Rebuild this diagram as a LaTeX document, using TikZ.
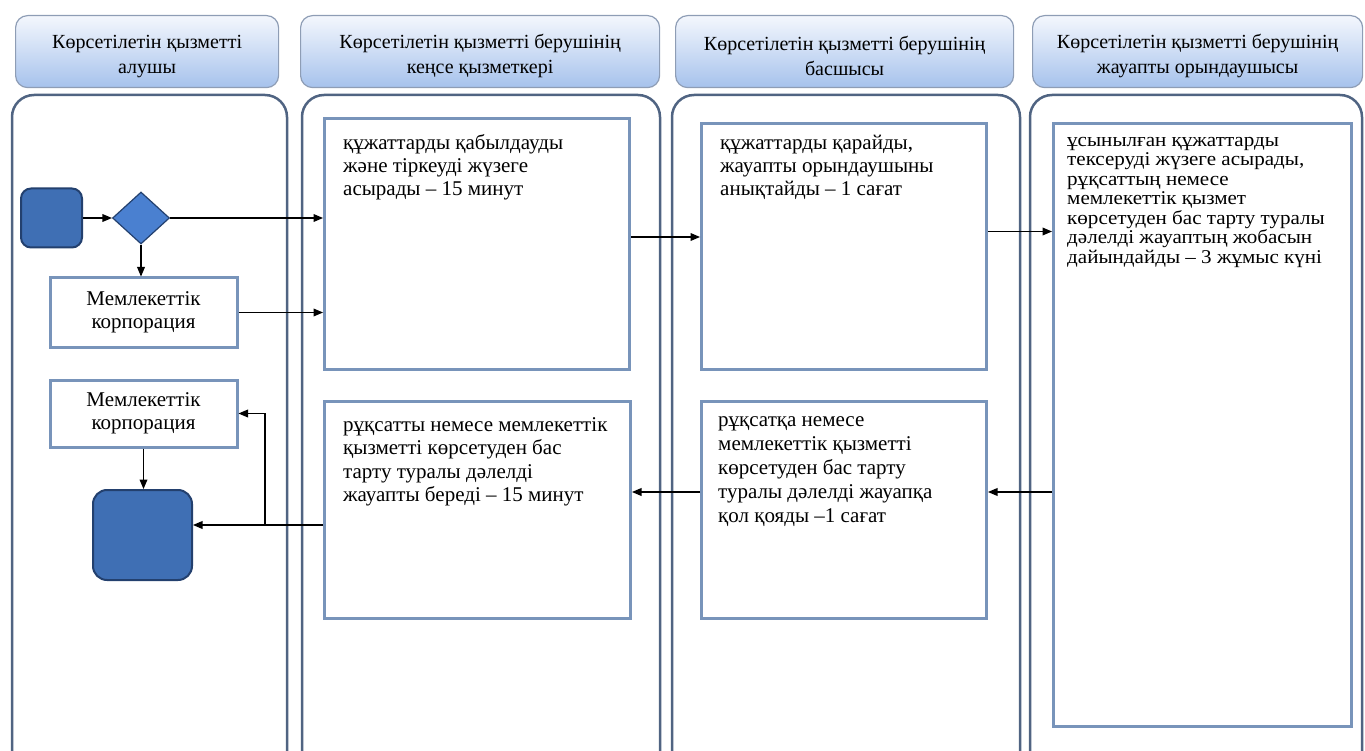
\documentclass[tikz,border=0pt]{standalone}
\usepackage{fontspec}
\setmainfont{Liberation Serif}
\newfontfamily\widefont{Liberation Serif}[FakeStretch=1.08]
\usetikzlibrary{arrows,shapes.geometric}

\definecolor{laneline}{RGB}{80,100,130}
\definecolor{boxline}{RGB}{120,148,186}
\definecolor{hdrline}{RGB}{142,157,181}
\definecolor{hdrtop}{RGB}{244,247,253}
\definecolor{hdrbot}{RGB}{166,194,236}
\definecolor{termfill}{RGB}{63,111,180}
\definecolor{termline}{RGB}{35,64,110}
\definecolor{decfill}{RGB}{74,128,208}

\begin{document}
\begin{tikzpicture}[x=1pt,y=-1pt,>=triangle 45,
	hdr/.style={draw=hdrline,line width=1.2pt,rounded corners=12pt,top color=hdrtop,bottom color=hdrbot,
		align=center,anchor=north west,inner sep=0pt,minimum height=72pt,font=\fontsize{20}{25}\selectfont},
	lane/.style={draw=laneline,line width=2.5pt,rounded corners=22pt},
	stepbox/.style={draw=boxline,line width=3pt,fill=white,anchor=north west,inner sep=0pt},
	steptext/.style={anchor=north west,align=left,inner sep=0pt,font=\fontsize{21}{23}\selectfont},
	corp/.style={draw=boxline,line width=3pt,fill=white,minimum width=187pt,align=center,
		inner sep=0pt,font=\fontsize{21}{23}\selectfont},
	term/.style={draw=termline,line width=2pt,fill=termfill,rounded corners=10pt,inner sep=0pt},
	decision/.style={diamond,draw=termline,line width=1.2pt,fill=decfill,minimum width=57pt,minimum height=52pt,inner sep=0pt},
	flow/.style={->,line width=1.2pt}]
	\useasboundingbox (0,0) rectangle (1365,751);
	\clip (0,0) rectangle (1365,751);

	% swimlanes
	\foreach \xa/\xb in {12/287,302/660,672/1020,1030/1362}
		\draw[lane] (\xa,95) rectangle (\xb,800);

	% lane headers
	\foreach \hname/\hx/\hw/\htext in
		{hdrRecip/15/263/{Көрсетілетін қызметті\\алушы},
		 hdrOffice/300/359/{Көрсетілетін қызметті берушінің\\кеңсе қызметкері},
		 hdrHead/675/338/{Көрсетілетін қызметті берушінің\\басшысы},
		 hdrExec/1032/330/{Көрсетілетін қызметті берушінің\\жауапты орындаушысы}}
			\node[hdr,minimum width=\hw pt] (\hname) at (\hx,15) {\rule{0pt}{24pt}\htext};

	% recipient lane
	\node[term,minimum width=61pt,minimum height=59pt] (start) at (51.5,218) {};
	\node[decision] (dia) at (141,218) {};
	\node[corp,minimum height=69pt] (corp1) at (143.5,312.5) {Мемлекеттік\\корпорация};
	\node[corp,minimum height=67pt] (corp2) at (143.5,413.5) {Мемлекеттік\\корпорация};
	\node[term,minimum width=99pt,minimum height=90pt,rounded corners=14pt] (fin) at (142.5,535) {};

	% step boxes
	\node[stepbox,minimum width=305pt,minimum height=251pt] (acc) at (323,117) {};
	\node[steptext] (accTxt) at (343,134) {құжаттарды қабылдауды\\және тіркеуді жүзеге\\асырады – 15 минут};
	\node[stepbox,minimum width=285pt,minimum height=246pt] (rev) at (700,122) {};
	\node[steptext] (revTxt) at (720,135) {құжаттарды қарайды,\\жауапты орындаушыны\\анықтайды – 1 сағат};
	\node[stepbox,minimum width=298pt,minimum height=603pt] (prep) at (1052,122) {};
	\node[steptext,font=\widefont\fontsize{19.5}{19.5}\selectfont] (prepTxt) at (1067,137)
		{ұсынылған құжаттарды\\тексеруді жүзеге асырады,\\рұқсаттың немесе\\мемлекеттік қызмет\\көрсетуден бас тарту туралы\\дәлелді жауаптың жобасын\\дайындайды – 3 жұмыс күні};
	\node[stepbox,minimum width=306pt,minimum height=217pt] (issue) at (323,400) {};
	\node[steptext,font=\fontsize{21}{23.5}\selectfont] (issueTxt) at (343,417) {рұқсатты немесе мемлекеттік\\қызметті көрсетуден бас\\тарту туралы дәлелді\\жауапты береді – 15 минут};
	\node[stepbox,minimum width=285pt,minimum height=217pt] (sign) at (700,400) {};
	\node[steptext,font=\fontsize{21}{24}\selectfont] (signTxt) at (718,416) {рұқсатқа немесе\\мемлекеттік қызметті\\көрсетуден бас тарту\\туралы дәлелді жауапқа\\қол қояды –1 сағат};

	% connectors
	\draw[flow] (start) -- (dia);
	\draw[flow] (dia.east) -- (dia.east -| acc.west);
	\draw[flow] (dia.south) -- (dia.south |- corp1.north);
	\draw[flow] (corp1.east) -- (corp1.east -| acc.west);
	\draw[flow] ([yshift=7pt]acc.east) -- ([yshift=7pt]acc.east -| rev.west);
	\draw[flow] ([yshift=15pt]rev.east) -- ([yshift=15pt]rev.east -| prep.west);
	\draw[flow] ([yshift=18pt]sign.east -| prep.west) -- ([yshift=18pt]sign.east);
	\draw[flow] ([yshift=18pt]sign.west) -- ([yshift=18pt]sign.west -| issue.east);
	\draw[flow] ([yshift=10pt]fin.east -| issue.west) -- ([yshift=10pt]fin.east);
	\coordinate (fork) at (265,525);
	\draw[flow] (fork) |- (corp2.east);
	\draw[flow] (corp2.south) -- (corp2.south |- fin.north);
\end{tikzpicture}
\end{document}
